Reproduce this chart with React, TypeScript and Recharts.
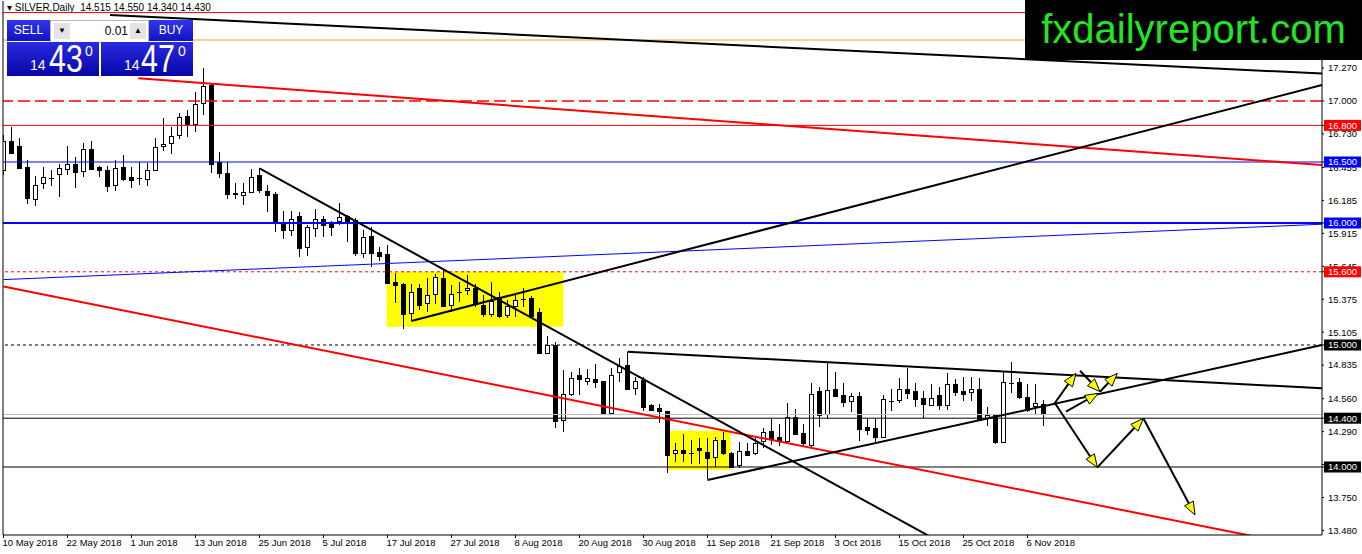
import React from 'react'
import { ComposedChart, Bar, XAxis, YAxis, ReferenceLine, ReferenceArea } from 'recharts'

const W = 1362
const H = 554
// domains are set so one bar slot is 8px and the price scale matches the terminal
const X_MIN = -0.0625
const X_MAX = 164.8125
const Y_MIN = 13.4426
const Y_MAX = 17.8197

const FONT = 'Tahoma, "Liberation Sans", Arial, sans-serif'

const DATE_LABELS = [
  '10 May 2018', '22 May 2018', '1 Jun 2018', '13 Jun 2018', '25 Jun 2018', '5 Jul 2018',
  '17 Jul 2018', '27 Jul 2018', '8 Aug 2018', '20 Aug 2018', '30 Aug 2018', '11 Sep 2018',
  '21 Sep 2018', '3 Oct 2018', '15 Oct 2018', '25 Oct 2018', '6 Nov 2018',
]
const BARS_PER_LABEL = 8

const OPEN = [
  16.434, 16.666, 16.631, 16.457, 16.194, 16.32, 16.366, 16.399, 16.44, 16.481,
  16.42, 16.604, 16.457, 16.434, 16.306, 16.457, 16.369, 16.362, 16.358, 16.434,
  16.625, 16.653, 16.716, 16.869, 16.806, 16.981, 17.125, 16.498, 16.407, 16.243,
  16.224, 16.252, 16.393, 16.262, 16.23, 15.992, 15.937, 16.052, 15.801, 15.957,
  16.025, 16.003, 16.011, 16.052, 16.019, 15.752, 15.893, 15.757, 15.738, 15.514,
  15.5, 15.26, 15.465, 15.342, 15.41, 15.547, 15.322, 15.43, 15.443, 15.465,
  15.322, 15.246, 15.388, 15.24, 15.314, 15.37, 15.383, 15.27, 14.932, 14.994,
  14.385, 14.598, 14.754, 14.699, 14.719, 14.699, 14.44, 14.773, 14.828, 14.645,
  14.713, 14.5, 14.481, 14.453, 14.107, 14.134, 14.114, 14.153, 14.118, 14.08,
  14.221, 14.112, 14.016, 14.125, 14.107, 14.21, 14.295, 14.243, 14.207, 14.407,
  14.276, 14.18, 14.617, 14.434, 14.637, 14.59, 14.535, 14.576, 14.322, 14.317,
  14.243, 14.54, 14.544, 14.637, 14.617, 14.563, 14.508, 14.582, 14.508, 14.68,
  14.617, 14.609, 14.637, 14.399, 14.426, 14.199, 14.686, 14.691, 14.571, 14.494,
  14.515,
]
const HIGH = [
  16.72, 16.789, 16.694, 16.516, 16.385, 16.457, 16.434, 16.484, 16.631, 16.543,
  16.653, 16.672, 16.467, 16.467, 16.516, 16.557, 16.461, 16.503, 16.494, 16.694,
  16.858, 16.789, 16.904, 16.93, 17.073, 17.273, 17.145, 16.584, 16.502, 16.325,
  16.325, 16.443, 16.448, 16.311, 16.257, 16.098, 16.098, 16.093, 15.984, 16.112,
  16.057, 16.019, 16.166, 16.066, 16.039, 15.943, 15.97, 15.806, 15.82, 15.588,
  15.505, 15.5, 15.5, 15.552, 15.58, 15.623, 15.492, 15.514, 15.574, 15.498,
  15.41, 15.514, 15.437, 15.369, 15.424, 15.465, 15.404, 15.306, 15.076, 15.022,
  14.795, 14.781, 14.809, 14.8, 14.844, 14.705, 14.809, 14.891, 14.945, 14.735,
  14.74, 14.516, 14.516, 14.461, 14.194, 14.27, 14.221, 14.235, 14.235, 14.243,
  14.289, 14.125, 14.207, 14.194, 14.235, 14.317, 14.391, 14.352, 14.527, 14.473,
  14.352, 14.686, 14.653, 14.863, 14.781, 14.686, 14.609, 14.617, 14.399, 14.399,
  14.59, 14.637, 14.727, 14.809, 14.691, 14.625, 14.68, 14.658, 14.768, 14.719,
  14.74, 14.735, 14.727, 14.489, 14.43, 14.781, 14.863, 14.727, 14.68, 14.68,
  14.55,
]
const LOW = [
  16.39, 16.57, 16.44, 16.156, 16.139, 16.276, 16.303, 16.21, 16.393, 16.285,
  16.375, 16.435, 16.375, 16.257, 16.265, 16.347, 16.285, 16.311, 16.303, 16.43,
  16.593, 16.566, 16.689, 16.705, 16.748, 16.885, 16.407, 16.366, 16.194, 16.194,
  16.148, 16.245, 16.243, 16.093, 15.929, 15.866, 15.893, 15.724, 15.73, 15.883,
  15.883, 15.893, 15.984, 15.847, 15.73, 15.711, 15.637, 15.689, 15.5, 15.342,
  15.131, 15.197, 15.287, 15.273, 15.334, 15.31, 15.273, 15.355, 15.41, 15.314,
  15.232, 15.232, 15.219, 15.224, 15.232, 15.314, 15.219, 14.925, 14.925, 14.317,
  14.289, 14.585, 14.59, 14.672, 14.645, 14.428, 14.434, 14.699, 14.631, 14.59,
  14.461, 14.455, 14.358, 13.953, 14.043, 14.043, 14.025, 14.025, 13.899, 14.003,
  14.098, 13.988, 13.99, 14.09, 14.098, 14.152, 14.18, 14.172, 14.194, 14.262,
  14.172, 14.166, 14.325, 14.391, 14.571, 14.489, 14.453, 14.216, 14.262, 14.207,
  14.235, 14.461, 14.527, 14.555, 14.494, 14.399, 14.5, 14.467, 14.467, 14.582,
  14.54, 14.54, 14.38, 14.336, 14.189, 14.195, 14.604, 14.555, 14.453, 14.434,
  14.34,
]
const CLOSE = [
  16.664, 16.571, 16.448, 16.202, 16.311, 16.371, 16.37, 16.448, 16.481, 16.416,
  16.604, 16.44, 16.429, 16.298, 16.448, 16.358, 16.347, 16.358, 16.434, 16.62,
  16.645, 16.711, 16.866, 16.806, 16.974, 17.117, 16.481, 16.402, 16.235, 16.23,
  16.252, 16.375, 16.265, 16.224, 15.992, 15.937, 16.03, 15.787, 15.965, 16.03,
  15.978, 15.965, 16.046, 16.011, 15.746, 15.883, 15.746, 15.724, 15.506, 15.486,
  15.246, 15.432, 15.322, 15.404, 15.552, 15.314, 15.416, 15.44, 15.465, 15.328,
  15.246, 15.355, 15.232, 15.314, 15.363, 15.373, 15.232, 14.932, 14.994, 14.377,
  14.596, 14.727, 14.719, 14.727, 14.691, 14.434, 14.754, 14.822, 14.637, 14.699,
  14.489, 14.467, 14.453, 14.098, 14.134, 14.112, 14.11, 14.134, 14.071, 14.216,
  14.112, 13.995, 14.125, 14.098, 14.189, 14.285, 14.227, 14.207, 14.407, 14.27,
  14.189, 14.598, 14.426, 14.631, 14.576, 14.527, 14.576, 14.309, 14.303, 14.243,
  14.555, 14.544, 14.637, 14.604, 14.555, 14.516, 14.563, 14.5, 14.68, 14.609,
  14.596, 14.637, 14.385, 14.426, 14.199, 14.691, 14.684, 14.571, 14.467, 14.522,
  14.43,
]

const PRICE_TICKS = [
  17.27, 17.0, 16.73, 16.455, 16.185, 15.915, 15.645, 15.375, 15.105, 14.835,
  14.56, 14.29, 14.02, 13.75, 13.48,
]

// horizontal levels: price, colour, width, dash, and whether the axis shows a box
const LEVELS = [
  { price: 17.725, color: '#ff0000', width: 1, dash: undefined, box: false },
  { price: 17.5, color: '#e8a33d', width: 1, dash: undefined, box: false },
  { price: 17.0, color: '#ff0000', width: 1.4, dash: '12 5', box: false },
  { price: 16.8, color: '#ff0000', width: 1, dash: undefined, box: true },
  { price: 16.5, color: '#0000ff', width: 1, dash: undefined, box: true },
  { price: 16.0, color: '#0000ff', width: 2, dash: undefined, box: true },
  { price: 15.6, color: '#ff0000', width: 1, dash: '3 3', box: true },
  { price: 15.0, color: '#000000', width: 1, dash: '3 3', box: true },
  { price: 14.43, color: '#c0c0c0', width: 1, dash: undefined, box: false },
  { price: 14.4, color: '#000000', width: 1, dash: undefined, box: true },
  { price: 14.0, color: '#000000', width: 1, dash: undefined, box: true },
]

// trendlines as [bar index, price] pairs
const TRENDS = [
  { a: [13.31, 17.705], b: [164.81, 17.225], color: '#000000', width: 2 },
  { a: [16.85, 17.186], b: [164.81, 16.475], color: '#ff0000', width: 2 },
  { a: [0, 15.536], b: [164.81, 15.99], color: '#0000ff', width: 1 },
  { a: [0, 15.48], b: [164.81, 13.32], color: '#ff0000', width: 2 },
  { a: [32, 16.448], b: [117.06, 13.385], color: '#000000', width: 2 },
  { a: [50.98, 15.197], b: [164.81, 17.131], color: '#000000', width: 2 },
  { a: [78, 14.945], b: [164.81, 14.645], color: '#000000', width: 2 },
  { a: [88, 13.893], b: [164.81, 15.0], color: '#000000', width: 2 },
]

const ZONES = [
  { x1: 47.9, x2: 69.98, y1: 15.15, y2: 15.6 },
  { x1: 83.1, x2: 90.9, y1: 13.975, y2: 14.297 },
]

const ARROWS = [
  { a: [131.44, 14.522], b: [136.73, 13.997] },
  { a: [136.73, 13.997], b: [142.48, 14.399] },
  { a: [142.48, 14.399], b: [148.94, 13.607] },
  { a: [131.31, 14.514], b: [134.06, 14.768] },
  { a: [134.56, 14.789], b: [137.06, 14.617] },
  { a: [137.06, 14.617], b: [139.23, 14.768] },
  { a: [132.81, 14.453], b: [136.85, 14.604] },
]

const CANDLES = OPEN.map((o, i) => ({
  idx: i,
  open: o,
  high: HIGH[i],
  low: LOW[i],
  close: CLOSE[i],
  range: [LOW[i], HIGH[i]],
}))

const DATE_TICKS = DATE_LABELS.map((_, k) => k * BARS_PER_LABEL)
const BOX_LEVELS = LEVELS.filter((l) => l.box)
const Y_TICKS = [...PRICE_TICKS, ...BOX_LEVELS.map((l) => l.price)]

function Candle(props: any) {
  const { x, y, width, height, payload } = props
  if (!payload || height == null) return null
  const { open, high, low, close } = payload
  const top = Math.min(y, y + height)
  const h = Math.abs(height)
  const k = h / (high - low)
  const cx = x + width / 2
  const yO = top + (high - open) * k
  const yC = top + (high - close) * k
  const bodyTop = Math.min(yO, yC)
  const bodyH = Math.abs(yO - yC)
  return (
    <g shapeRendering="crispEdges">
      <line x1={cx} x2={cx} y1={top} y2={top + h} stroke="#000" strokeWidth={1} />
      {bodyH < 1.5 ? (
        <line x1={cx - 2.5} x2={cx + 2.5} y1={yO} y2={yO} stroke="#000" strokeWidth={1} />
      ) : (
        <rect
          x={cx - 2}
          y={bodyTop}
          width={4}
          height={bodyH}
          fill={close >= open ? '#ffffff' : '#000000'}
          stroke="#000"
          strokeWidth={1}
        />
      )}
    </g>
  )
}

function Arrow(props: any) {
  const { x1, y1, x2, y2 } = props
  const dx = x2 - x1
  const dy = y2 - y1
  const len = Math.hypot(dx, dy) || 1
  const ux = dx / len
  const uy = dy / len
  const bx = x2 - ux * 13
  const by = y2 - uy * 13
  const pts = `${x2},${y2} ${bx - uy * 5},${by + ux * 5} ${bx + uy * 5},${by - ux * 5}`
  return (
    <g>
      <line x1={x1} y1={y1} x2={bx} y2={by} stroke="#000" strokeWidth={2} />
      <polygon points={pts} fill="#ffff00" stroke="#000" strokeWidth={1} />
    </g>
  )
}

function PriceTick(props: any) {
  const { x, y, payload } = props
  const v = payload.value
  const lvl = BOX_LEVELS.find((l) => l.price === v)
  if (lvl) {
    return (
      <g>
        <rect x={x - 4} y={y - 5.5} width={37} height={11} fill={lvl.color} />
        <text x={x} y={y} dy="0.35em" fill="#fff" fontSize={9.5} fontFamily={FONT}>
          {v.toFixed(3)}
        </text>
      </g>
    )
  }
  return (
    <text x={x} y={y} dy="0.35em" fill="#000" fontSize={9.5} fontFamily={FONT}>
      {v.toFixed(3)}
    </text>
  )
}

function DateTick(props: any) {
  const { x, y, payload } = props
  return (
    <text x={x - 1} y={y} dy={7} fill="#000" fontSize={9.5} fontFamily={FONT} textAnchor="start">
      {DATE_LABELS[Math.round(payload.value / BARS_PER_LABEL)]}
    </text>
  )
}

const blue = 'linear-gradient(#3434ee, #1212c4)'
const priceBox = 'linear-gradient(#2a2ae0, #0606a8)'

function TradePanel() {
  const big = { fontSize: 38, display: 'inline-block', transform: 'scaleX(0.8)', transformOrigin: 'left' }
  return (
    <div style={{ position: 'absolute', left: 0, top: 0, fontFamily: FONT, color: '#fff' }}>
      <div style={{ position: 'absolute', left: 7, top: 20, width: 43, height: 21, background: blue, fontSize: 12, lineHeight: '21px', textAlign: 'center' }}>SELL</div>
      <div style={{ position: 'absolute', left: 50, top: 20, width: 97, height: 21, background: '#fff', border: '1px solid #b8b8b8', color: '#000' }}>
        <div style={{ position: 'absolute', left: 3, top: 2, width: 16, height: 16, background: '#e4e4e4', fontSize: 8, lineHeight: '16px', textAlign: 'center' }}>▼</div>
        <div style={{ position: 'absolute', right: 20, top: 0, fontSize: 12, lineHeight: '21px' }}>0.01</div>
        <div style={{ position: 'absolute', right: 2, top: 2, width: 16, height: 16, background: '#e4e4e4', fontSize: 8, lineHeight: '16px', textAlign: 'center' }}>▲</div>
      </div>
      <div style={{ position: 'absolute', left: 149, top: 20, width: 44, height: 21, background: blue, fontSize: 12, lineHeight: '21px', textAlign: 'center' }}>BUY</div>
      <div style={{ position: 'absolute', left: 7, top: 42, width: 92, height: 34, background: priceBox }}>
        <span style={{ position: 'absolute', left: 23, top: 15, fontSize: 14 }}>14</span>
        <span style={{ position: 'absolute', left: 42, top: -4, ...big }}>43</span>
        <span style={{ position: 'absolute', left: 78, top: 1, fontSize: 14 }}>0</span>
      </div>
      <div style={{ position: 'absolute', left: 101, top: 42, width: 92, height: 34, background: priceBox }}>
        <span style={{ position: 'absolute', left: 23, top: 15, fontSize: 14 }}>14</span>
        <span style={{ position: 'absolute', left: 40, top: -4, ...big }}>47</span>
        <span style={{ position: 'absolute', left: 77, top: 1, fontSize: 14 }}>0</span>
      </div>
    </div>
  )
}

export default function App() {
  return (
    <div style={{ position: 'absolute', left: 0, top: 0, width: W, height: H, background: '#fff', overflow: 'hidden' }}>
      <div style={{ position: 'absolute', left: 7, top: 2, fontFamily: FONT, fontSize: 10, color: '#000', whiteSpace: 'pre' }}>
        {'▾ SILVER,Daily  14.515 14.550 14.340 14.430'}
      </div>
      <div style={{ position: 'absolute', left: 0, top: 0 }}>
        <ComposedChart width={W} height={H} data={CANDLES} margin={{ top: 1, right: 0, bottom: 0, left: 3 }}>
          {ZONES.map((z, i) => (
            <ReferenceArea key={`z${i}`} x1={z.x1} x2={z.x2} y1={z.y1} y2={z.y2} fill="#ffff00" fillOpacity={1} stroke="none" ifOverflow="hidden" />
          ))}
          <Bar dataKey="range" barSize={5} shape={Candle} isAnimationActive={false} />
          {LEVELS.map((l, i) => (
            <ReferenceLine
              key={`l${i}`}
              y={l.price}
              stroke={l.color}
              strokeWidth={l.width}
              strokeDasharray={l.dash}
              ifOverflow="hidden"
            />
          ))}
          {TRENDS.map((t, i) => (
            <ReferenceLine
              key={`t${i}`}
              segment={[{ x: t.a[0], y: t.a[1] }, { x: t.b[0], y: t.b[1] }]}
              stroke={t.color}
              strokeWidth={t.width}
              ifOverflow="hidden"
            />
          ))}
          {ARROWS.map((a, i) => (
            <ReferenceLine
              key={`a${i}`}
              segment={[{ x: a.a[0], y: a.a[1] }, { x: a.b[0], y: a.b[1] }]}
              shape={(p: any) => <Arrow {...p} />}
              ifOverflow="visible"
            />
          ))}
          <ReferenceLine x={X_MIN} stroke="#000" strokeWidth={1} />
          <XAxis
            dataKey="idx"
            type="number"
            domain={[X_MIN, X_MAX]}
            ticks={DATE_TICKS}
            interval={0}
            height={19}
            tickSize={3}
            tickMargin={1}
            tick={DateTick}
            axisLine={{ stroke: '#000' }}
            tickLine={{ stroke: '#000' }}
            allowDataOverflow
          />
          <YAxis
            orientation="right"
            type="number"
            domain={[Y_MIN, Y_MAX]}
            ticks={Y_TICKS}
            interval={0}
            width={40}
            tickSize={2}
            tickMargin={4}
            tick={PriceTick}
            axisLine={{ stroke: '#000' }}
            tickLine={{ stroke: '#000' }}
            allowDataOverflow
          />
        </ComposedChart>
      </div>
      <TradePanel />
      <div
        style={{
          position: 'absolute',
          left: 1025,
          top: 0,
          width: 337,
          height: 60,
          background: '#000',
          color: '#22e622',
          fontFamily: '"Liberation Sans", Arial, sans-serif',
          fontSize: 40,
          lineHeight: '58px',
          textAlign: 'center',
        }}
      >
        fxdailyreport.com
      </div>
    </div>
  )
}
